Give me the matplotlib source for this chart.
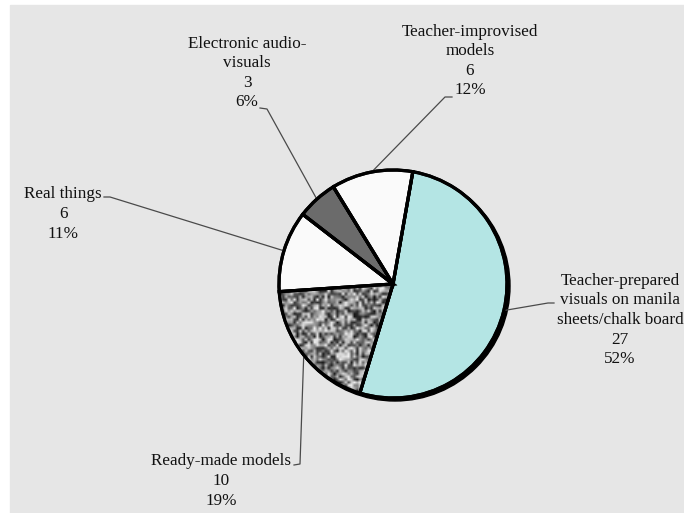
import numpy as np
import matplotlib.pyplot as plt
from matplotlib.patches import Rectangle, Circle

# data
labels = ["Teacher-prepared\nvisuals on manila\nsheets/chalk board",
          "Ready-made models",
          "Real things",
          "Electronic audio-\nvisuals",
          "Teacher-improvised\nmodels"]
counts = [27, 10, 6, 3, 6]
percents = [52, 19, 11, 6, 12]
colors = ["#b4e5e4", "#8a8a8a", "#fafafa", "#6b6b6b", "#fafafa"]

H = 513
# label centres and leader elbows, in pixels from top-left
text_pos = [(620, 320), (221, 481), (63, 214), (247, 73), (470, 61)]
elbows = [[(548, 303), (554, 303)],
          [(300, 464), (294, 465)],
          [(110, 197), (104, 197)],
          [(267, 109), (260, 108)],
          [(445, 97), (452, 97)]]

fig = plt.figure(figsize=(6.84, 5.13), dpi=100)
ax = fig.add_axes([0, 0, 1, 1])
ax.add_patch(Rectangle((10, 0), 674, 508, color="#e6e6e6", zorder=0))

cx, cy, R = 393, H - 284, 114
ax.add_patch(Circle((cx + 2, cy - 2), R + 1, color="black", zorder=0.5))

wedges, _ = ax.pie(counts, colors=colors, startangle=80, counterclock=False,
                   center=(cx, cy), radius=R, frame=True,
                   wedgeprops=dict(edgecolor="black", linewidth=2.3))

# speckled fill for ready-made models
tex = np.random.default_rng(3).random((80, 80))
img = ax.imshow(tex, extent=(cx - R, cx + R, cy - R, cy + R), cmap="gray",
                vmin=-0.1, vmax=1.05, interpolation="bilinear", zorder=2)
img.set_clip_path(wedges[1])

# outlines on top
ax.pie(counts, colors=["none"] * 5, startangle=80, counterclock=False,
       center=(cx, cy), radius=R, frame=True,
       wedgeprops=dict(edgecolor="black", linewidth=2.3, zorder=3))

for w, lab, n, p, tp, el in zip(wedges, labels, counts, percents, text_pos, elbows):
    th = np.deg2rad((w.theta1 + w.theta2) / 2)
    xs = [cx + R * np.cos(th)] + [e[0] for e in el]
    ys = [cy + R * np.sin(th)] + [H - e[1] for e in el]
    ax.plot(xs, ys, color="#4a4a4a", lw=0.9, zorder=1.5)
    ax.text(tp[0], H - tp[1], f"{lab}\n{n}\n{p}%", ha="center", va="center",
            fontsize=12.3, linespacing=1.3, family="Liberation Serif",
            color="#111111")

ax.set_xlim(0, 684)
ax.set_ylim(0, H)
ax.set_aspect("auto")
ax.axis("off")
fig.savefig("out.png", dpi=100)
